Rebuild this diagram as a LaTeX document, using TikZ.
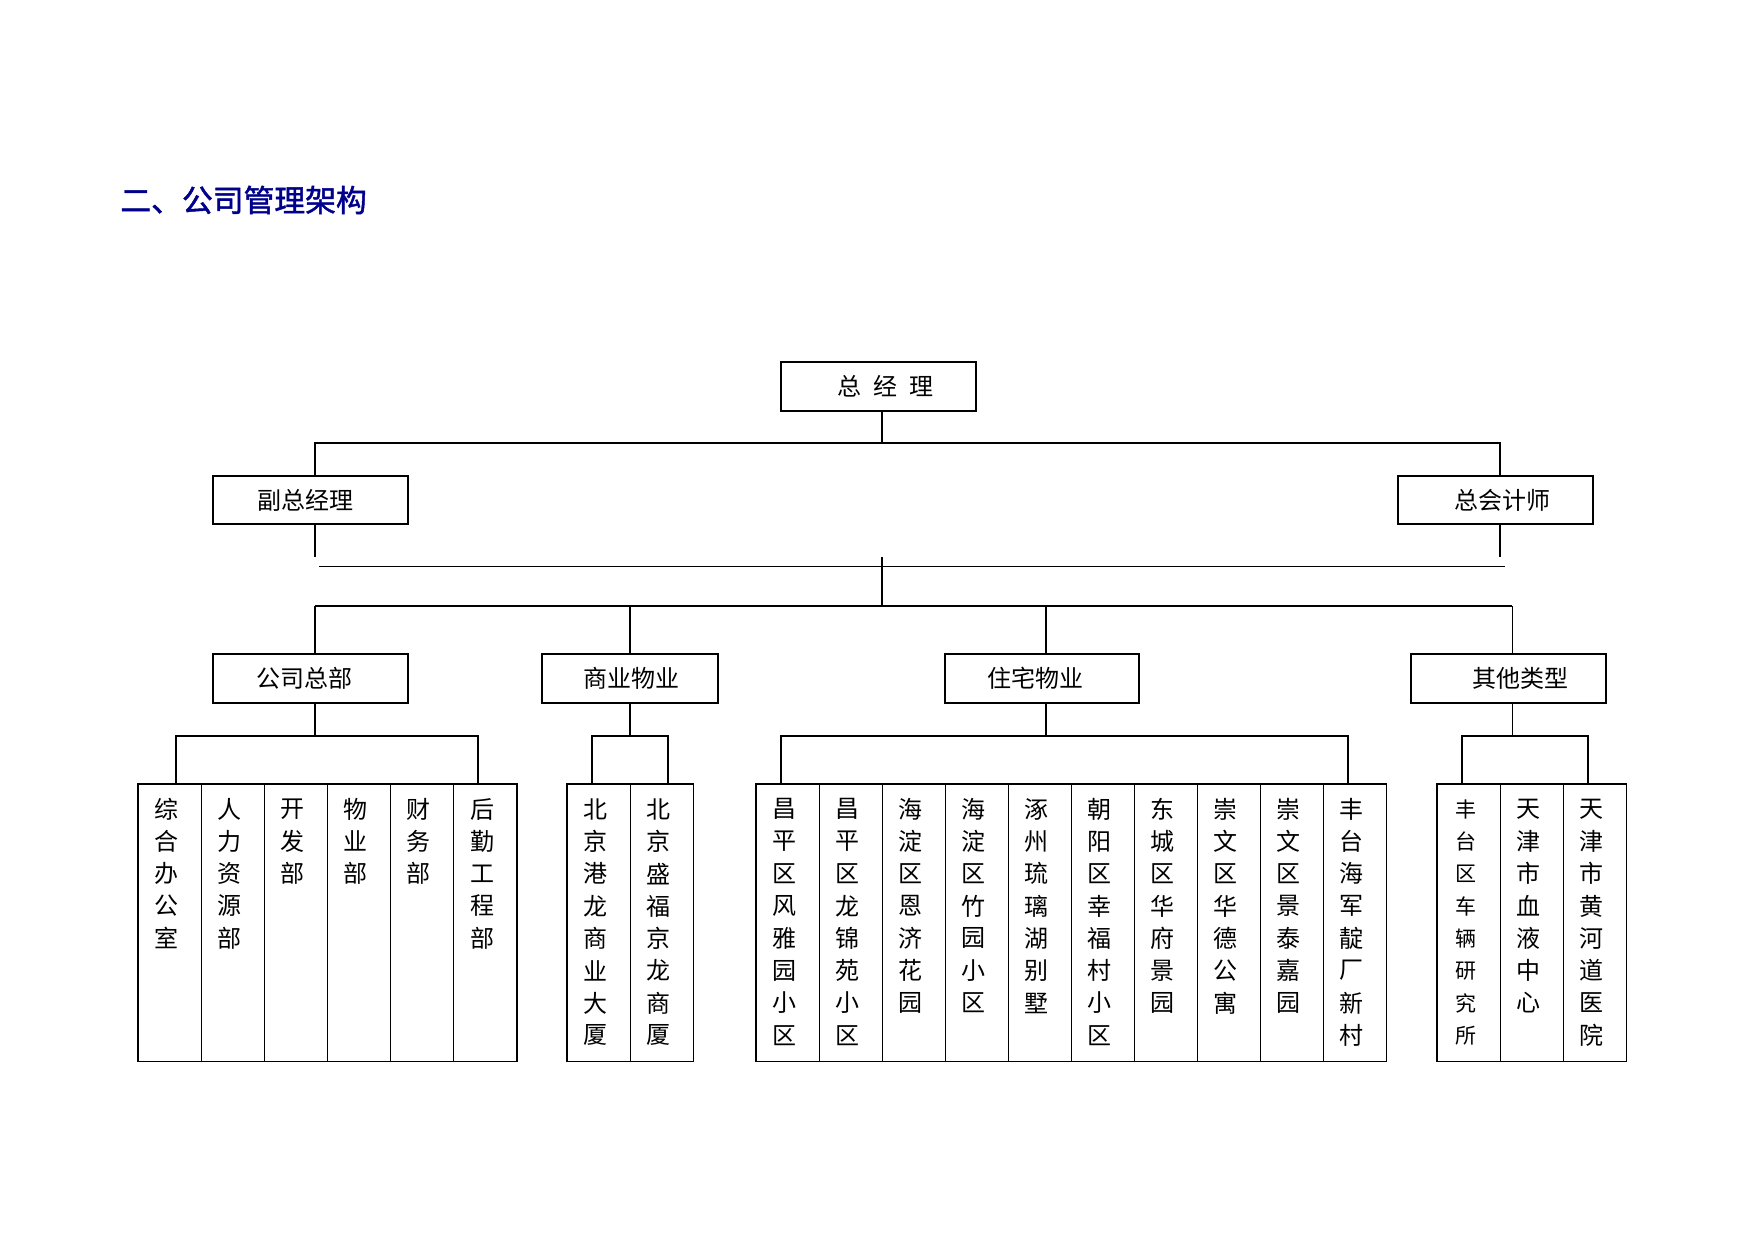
\documentclass[tikz,border=0pt]{standalone}
\usepackage{fontspec}
\newfontfamily\cjk{Noto Sans CJK SC}[AutoFakeBold=1.5]
\definecolor{titleblue}{RGB}{0,0,140}
\tikzset{
  ln/.style={line width=0.65pt},
  thinln/.style={line width=0.35pt},
  hairln/.style={line width=0.3pt},
  box/.style={draw, line width=0.65pt, minimum width=97.5pt, minimum height=24.5pt, inner sep=0pt},
  lab/.style={font=\cjk\fontsize{12}{14}\selectfont, inner sep=0pt},
  colbox/.style={draw, line width=0.5pt, minimum width=31.5pt, minimum height=138.5pt, inner sep=0pt},
  vch/.style={font=\cjk\fontsize{12}{14}\selectfont, inner sep=0pt},
  smallch/.style={font=\cjk\fontsize{10.5}{12}\selectfont},
}
\newcommand\vcol[4][]{%
  \node[colbox] (#2) at (#3,922.5) {};
  \foreach \ch [count=\k from 0] in {#4}
    \node[vch,#1] (#2-\k) at ({#3-3},{809+32.33*\k}) {\ch};
}
\begin{document}
\begin{tikzpicture}[x=0.5pt,y=-0.5pt]
\useasboundingbox (0,0) rectangle (1754,1241);
\fill[white] (0,0) rectangle (1754,1241);

% title
\node[anchor=west, inner sep=0pt, text=titleblue, font=\cjk\bfseries\fontsize{15.4}{18}\selectfont] (title) at (120,200) {二、公司管理架构};

% top boxes
\node[box, label={[lab, xshift=3.25pt]center:{总\hspace{0.5em}经\hspace{0.5em}理}}] (gm) at (878.5,386.5) {};
\node[box, minimum height=24pt, label={[lab, xshift=-2.5pt]center:副总经理}] (dgm) at (310.5,500) {};
\node[box, minimum height=24pt, label={[lab, xshift=3.5pt]center:总会计师}] (cfo) at (1495.5,500) {};

\node[box, label={[lab, xshift=-3pt]center:公司总部}] (hq) at (310.5,678.5) {};
\node[box, minimum width=88pt, label={[lab, xshift=0.75pt]center:商业物业}] (com) at (630,678.5) {};
\node[box, minimum width=97pt, label={[lab, xshift=-3.25pt]center:住宅物业}] (res) at (1042,678.5) {};
\node[box, label={[lab, xshift=5.75pt]center:其他类型}] (oth) at (1508.5,678.5) {};

% junction coordinates
\coordinate (b0) at (882,443);
\coordinate (bL) at (315,443);
\coordinate (bR) at (1500,443);
\coordinate (dL) at (315,557);
\coordinate (dR) at (1500,557);
\coordinate (tL) at (319,566);
\coordinate (tR) at (1505,566);
\coordinate (c1) at (882,557);
\coordinate (c2) at (882,606);
\coordinate (m1) at (315,606);
\coordinate (m2) at (630,606);
\coordinate (m3) at (1046,606);
\coordinate (m4) at (1512,606);
\coordinate (g1L) at (176,736);
\coordinate (g1R) at (478,736);
\coordinate (g2L) at (592,736);
\coordinate (g2R) at (668,736);
\coordinate (g3L) at (781,736);
\coordinate (g3R) at (1348,736);
\coordinate (g4L) at (1462,736);
\coordinate (g4R) at (1588,736);

% columns
\vcol{g1a}{169.5}{综,合,办,公,室}
\vcol{g1b}{232.5}{人,力,资,源,部}
\vcol{g1c}{295.5}{开,发,部}
\vcol{g1d}{358.5}{物,业,部}
\vcol{g1e}{421.5}{财,务,部}
\vcol{g1f}{485}{后,勤,工,程,部}

\vcol{g2a}{598.5}{北,京,港,龙,商,业,大,厦}
\vcol{g2b}{661.5}{北,京,盛,福,京,龙,商,厦}

\vcol{g3a}{787.5}{昌,平,区,风,雅,园,小,区}
\vcol{g3b}{850.5}{昌,平,区,龙,锦,苑,小,区}
\vcol{g3c}{913.5}{海,淀,区,恩,济,花,园}
\vcol{g3d}{976.5}{海,淀,区,竹,园,小,区}
\vcol{g3e}{1039.5}{涿,州,琉,璃,湖,别,墅}
\vcol{g3f}{1102.5}{朝,阳,区,幸,福,村,小,区}
\vcol{g3g}{1165.5}{东,城,区,华,府,景,园}
\vcol{g3h}{1228.5}{崇,文,区,华,德,公,寓}
\vcol{g3i}{1291.5}{崇,文,区,景,泰,嘉,园}
\vcol{g3j}{1354.5}{丰,台,海,军,靛,厂,新,村}

\vcol[smallch]{g4a}{1468.5}{丰,台,区,车,辆,研,究,所}
\vcol{g4b}{1531.5}{天,津,市,血,液,中,心}
\vcol{g4c}{1594.5}{天,津,市,黄,河,道,医,院}

% group outlines
\draw[ln] (g1a.north west) rectangle (g1f.south east);
\draw[ln] (g2a.north west) rectangle (g2b.south east);
\draw[ln] (g3a.north west) rectangle (g3j.south east);
\draw[ln] (g4a.north west) rectangle (g4c.south east);

% connectors
\draw[ln] (b0 |- gm.south) -- (b0);
\draw[ln] (bL |- dgm.north) -- (bL) -- (bR) -- (bR |- cfo.north);
\draw[ln] (bL |- dgm.south) -- (dL);
\draw[ln] (bR |- cfo.south) -- (dR);
\draw[thinln] (tL) -- (tR);
\draw[ln] (c1) -- (c2);
\draw[ln] (m1) -- (m4);
\draw[ln] (m1) -- (m1 |- hq.north);
\draw[ln] (m2) -- (m2 |- com.north);
\draw[ln] (m3) -- (m3 |- res.north);
\draw[hairln] (m4) -- (m4 |- oth.north);

\draw[ln] (m1 |- hq.south) -- (m1 |- g1L);
\draw[ln] (g1L |- g1a.north) -- (g1L) -- (g1R) -- (g1R |- g1f.north);
\draw[ln] (m2 |- com.south) -- (m2 |- g2L);
\draw[ln] (g2L |- g2a.north) -- (g2L) -- (g2R) -- (g2R |- g2b.north);
\draw[ln] (m3 |- res.south) -- (m3 |- g3L);
\draw[ln] (g3L |- g3a.north) -- (g3L) -- (g3R) -- (g3R |- g3j.north);
\draw[hairln] (m4 |- oth.south) -- (m4 |- g4L);
\draw[ln] (g4L |- g4a.north) -- (g4L) -- (g4R) -- (g4R |- g4c.north);
\end{tikzpicture}
\end{document}
